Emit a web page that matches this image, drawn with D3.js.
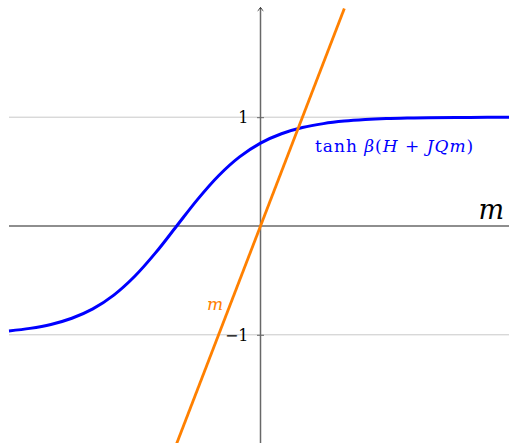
<!DOCTYPE html>
<html>
<head>
<meta charset="utf-8">
<script src="https://cdn.jsdelivr.net/npm/d3@7"></script>
<style>
  body { margin: 0; background: #fff; }
  svg { display: block; }
  svg text { font-family: "DejaVu Serif", "Liberation Serif", serif; }
</style>
</head>
<body>
<svg width="509" height="443"></svg>
<script>
const svg = d3.select("svg");

// values
const mValues = [-6, -5.5, -5, -4.5, -4, -3.5, -3, -2.5, -2, -1.5, -1, -0.5, 0, 0.5, 1, 1.5, 2, 2.5, 3, 3.5, 4, 5, 6];
const tanhValues = [-0.964, -0.941, -0.905, -0.848, -0.762, -0.635, -0.462, -0.245, 0, 0.245, 0.462, 0.635, 0.762, 0.848, 0.905, 0.941, 0.964, 0.978, 0.987, 0.992, 0.995, 0.998, 0.999];
const lineM = [-2, 2];
const lineValues = [-2, 2];
const gridTicks = [-1, 1];
const tickLabels = ["−1", "1"];

const x = d3.scaleLinear().domain([-6, 6]).range([9, 512]);
const y = d3.scaleLinear().domain([-2, 2]).range([443.6, 8.4]);

// grid lines at +-1
svg.append("g")
  .selectAll("line")
  .data(gridTicks)
  .enter().append("line")
  .attr("x1", x(-6)).attr("x2", x(6))
  .attr("y1", d => y(d)).attr("y2", d => y(d))
  .attr("stroke", "#c8c8c8")
  .attr("stroke-width", 1);

// x axis
svg.append("line")
  .attr("x1", x(-6)).attr("x2", x(6))
  .attr("y1", y(0)).attr("y2", y(0))
  .attr("stroke", "#686868")
  .attr("stroke-width", 1.5);

// y axis with arrow
svg.append("defs").append("marker")
  .attr("id", "arrow")
  .attr("viewBox", "-5 -5 10 10")
  .attr("refX", 0).attr("refY", 0)
  .attr("markerWidth", 8).attr("markerHeight", 8)
  .attr("markerUnits", "userSpaceOnUse")
  .attr("orient", "auto")
  .append("path")
  .attr("d", "M-3.5,-3.5 Q-1,-0.5 0.8,0 Q-1,0.5 -3.5,3.5")
  .attr("fill", "none")
  .attr("stroke", "#222")
  .attr("stroke-width", 1.2);

svg.append("line")
  .attr("x1", x(0)).attr("x2", x(0))
  .attr("y1", 443).attr("y2", 8)
  .attr("stroke", "#686868")
  .attr("stroke-width", 1.5)
  .attr("marker-end", "url(#arrow)");

const yAxis = svg.append("g")
  .attr("transform", `translate(${x(0)},0)`)
  .call(d3.axisLeft(y).tickValues(gridTicks).tickFormat((d, i) => tickLabels[i]).tickSize(3.5));
yAxis.select(".domain").remove();
yAxis.selectAll(".tick line")
  .attr("x1", -3.5).attr("x2", 3.5)
  .attr("stroke", "#686868");
yAxis.selectAll(".tick text")
  .attr("x", -12)
  .attr("dy", "0.36em")
  .style("font-size", "16px")
  .attr("fill", "#000");

// curves
const curve = d3.line()
  .x(d => x(d[0]))
  .y(d => y(d[1]))
  .curve(d3.curveCatmullRom);

svg.append("path")
  .datum(mValues.map((m, i) => [m, tanhValues[i]]))
  .attr("d", curve)
  .attr("fill", "none")
  .attr("stroke", "#0000ff")
  .attr("stroke-width", 3);

svg.append("path")
  .datum(lineM.map((m, i) => [m, lineValues[i]]))
  .attr("d", curve)
  .attr("fill", "none")
  .attr("stroke", "#ff8000")
  .attr("stroke-width", 2.8);

// labels
svg.append("text")
  .attr("x", 504).attr("y", 219)
  .attr("text-anchor", "end")
  .style("font-style", "italic")
  .style("font-size", "27px")
  .text("m");

svg.append("text")
  .attr("x", 223).attr("y", 310)
  .attr("text-anchor", "end")
  .attr("fill", "#ff8000")
  .style("font-style", "italic")
  .style("font-size", "17px")
  .text("m");

const lbl = svg.append("text")
  .attr("x", 315).attr("y", 152)
  .attr("fill", "#0000ff")
  .style("font-size", "17px")
  .style("letter-spacing", "1px")
  .style("white-space", "pre");
lbl.append("tspan").text("tanh ");
lbl.append("tspan").style("font-style", "italic").text("β");
lbl.append("tspan").text("(");
lbl.append("tspan").style("font-style", "italic").text("H");
lbl.append("tspan").text(" + ");
lbl.append("tspan").style("font-style", "italic").text("JQm");
lbl.append("tspan").text(")");
</script>
</body>
</html>
